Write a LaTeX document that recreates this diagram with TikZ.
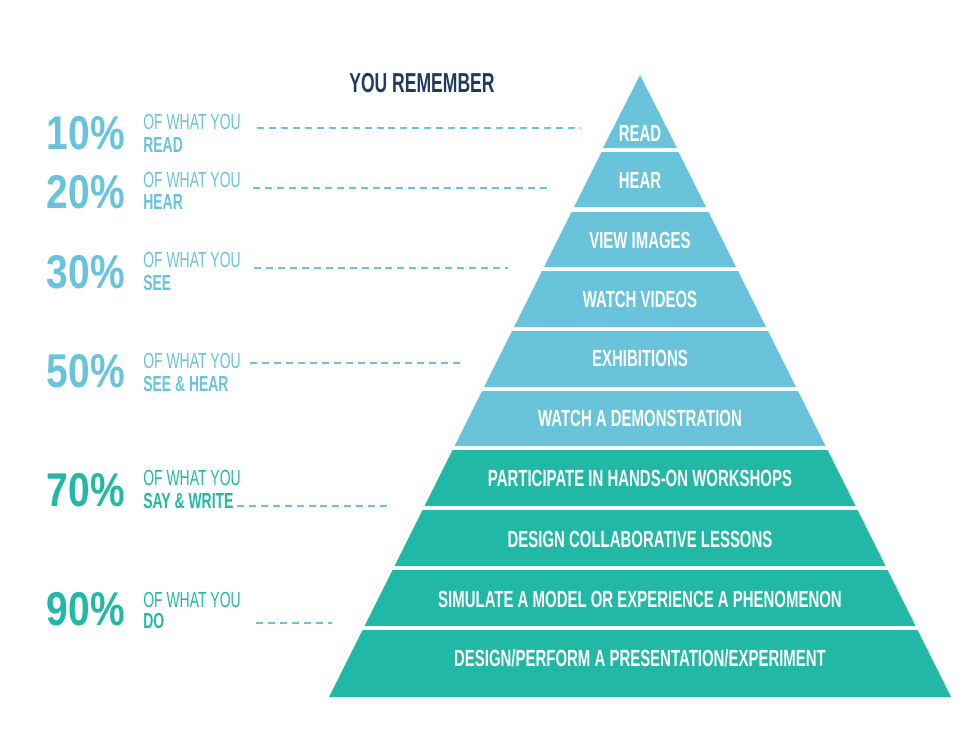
\documentclass[tikz,border=0pt]{standalone}
\usepackage{fontspec}
\setmainfont[FakeStretch=0.64]{Liberation Sans}
\newfontfamily\pctfont[FakeStretch=0.82]{Liberation Sans}
\usepackage{tikz}
\usetikzlibrary{calc}
\definecolor{skyblue}{HTML}{68C3DB}
\definecolor{tealgreen}{HTML}{21B8A6}
\definecolor{navy}{HTML}{1E3A5C}
\def\band[#1](#2:#3){\fill[#1] ({640-(#2-75)/2}, #2) -- ({640+(#2-75)/2}, #2) -- ({640+(#3-75)/2}, #3) -- ({640-(#3-75)/2}, #3) -- cycle;}
\tikzset{
  bandtext/.style={text=white, font=\fontsize{13.3}{15}\selectfont\bfseries, inner sep=0pt},
  pct/.style={anchor=base east, inner sep=0pt, font=\pctfont\fontsize{27}{30}\selectfont\bfseries},
  ofwhat/.style={anchor=base west, inner sep=0pt, font=\fontsize{12.4}{14}\selectfont},
  what/.style={anchor=base west, inner sep=0pt, font=\fontsize{12.4}{14}\selectfont\bfseries},
  guide/.style={skyblue, line width=1.1pt, dash pattern=on 4pt off 2.8pt}
}

\begin{document}
\begin{tikzpicture}[x=0.02cm, y=-0.02cm]
		%%%%% START %%%%%
		\useasboundingbox (0, 0) rectangle (970, 728);
		
		\node[anchor=base west, inner sep=0pt, text=navy, font=\fontsize{15.6}{18}\selectfont\bfseries] (title) at (349, 92) {YOU REMEMBER};
		
		% pyramid
		\fill[skyblue] (640, 75) -- (677, 148) -- (603, 148) -- cycle;
		\band[skyblue](152:207)
		\band[skyblue](212:267)
		\band[skyblue](271:327)
		\band[skyblue](331:387)
		\band[skyblue](391:446)
		\band[tealgreen](450:506)
		\band[tealgreen](510:566)
		\band[tealgreen](570:626)
		\band[tealgreen](630:697)
		
		\node[bandtext] (read) at (640, 133) {READ};
		\node[bandtext] (hear) at (640, 180) {HEAR};
		\node[bandtext] (images) at (640, 240) {VIEW IMAGES};
		\node[bandtext] (videos) at (640, 299) {WATCH VIDEOS};
		\node[bandtext] (exhib) at (640, 358) {EXHIBITIONS};
		\node[bandtext] (demo) at (640, 418) {WATCH A DEMONSTRATION};
		\node[bandtext] (hands) at (640, 478) {PARTICIPATE IN HANDS-ON WORKSHOPS};
		\node[bandtext] (collab) at (640, 539) {DESIGN COLLABORATIVE LESSONS};
		\node[bandtext] (simul) at (640, 599) {SIMULATE A MODEL OR EXPERIENCE A PHENOMENON};
		\node[bandtext] (present) at (640, 658) {DESIGN/PERFORM A PRESENTATION/EXPERIMENT};
		
		% left column
		\node[pct, text=skyblue] (p10) at (125, 149) {10\%};
		\node[ofwhat, text=skyblue] (o10) at (143, 129) {OF WHAT YOU};
		\node[what, text=skyblue] (w10) at (143, 152) {READ};
		
		\node[pct, text=skyblue] (p20) at (125, 208) {20\%};
		\node[ofwhat, text=skyblue] (o20) at (143, 187) {OF WHAT YOU};
		\node[what, text=skyblue] (w20) at (143, 209) {HEAR};
		
		\node[pct, text=skyblue] (p30) at (125, 288) {30\%};
		\node[ofwhat, text=skyblue] (o30) at (143, 267) {OF WHAT YOU};
		\node[what, text=skyblue] (w30) at (143, 290) {SEE};
		
		\node[pct, text=skyblue] (p50) at (125, 387) {50\%};
		\node[ofwhat, text=skyblue] (o50) at (143, 368) {OF WHAT YOU};
		\node[what, text=skyblue] (w50) at (143, 391) {SEE \& HEAR};
		
		\node[pct, text=tealgreen] (p70) at (125, 506) {70\%};
		\node[ofwhat, text=tealgreen] (o70) at (143, 485) {OF WHAT YOU};
		\node[what, text=tealgreen] (w70) at (143, 508) {SAY \& WRITE};
		
		\node[pct, text=tealgreen] (p90) at (125, 625) {90\%};
		\node[ofwhat, text=tealgreen] (o90) at (143, 607) {OF WHAT YOU};
		\node[what, text=tealgreen] (w90) at (143, 628) {DO};
		
		% guide lines
		\coordinate (g10) at (580, 128);
		\coordinate (g20) at (548, 188);
		\coordinate (g30) at (508, 268);
		\coordinate (g50) at (462, 363);
		\coordinate (g70) at (390, 506);
		\coordinate (g90) at (332, 623);
		\draw[guide] ($(o10.east |- g10) + (16, 0)$) -- (g10);
		\draw[guide] ($(o20.east |- g20) + (12, 0)$) -- (g20);
		\draw[guide] ($(o30.east |- g30) + (13, 0)$) -- (g30);
		\draw[guide] ($(o50.east |- g50) + (9, 0)$) -- (g50);
		\draw[guide] ($(w70.east |- g70) + (3, 0)$) -- (g70);
		\draw[guide] ($(o90.east |- g90) + (15, 0)$) -- (g90);
		
		%%%%% END %%%%%
	\end{tikzpicture}
\end{document}
